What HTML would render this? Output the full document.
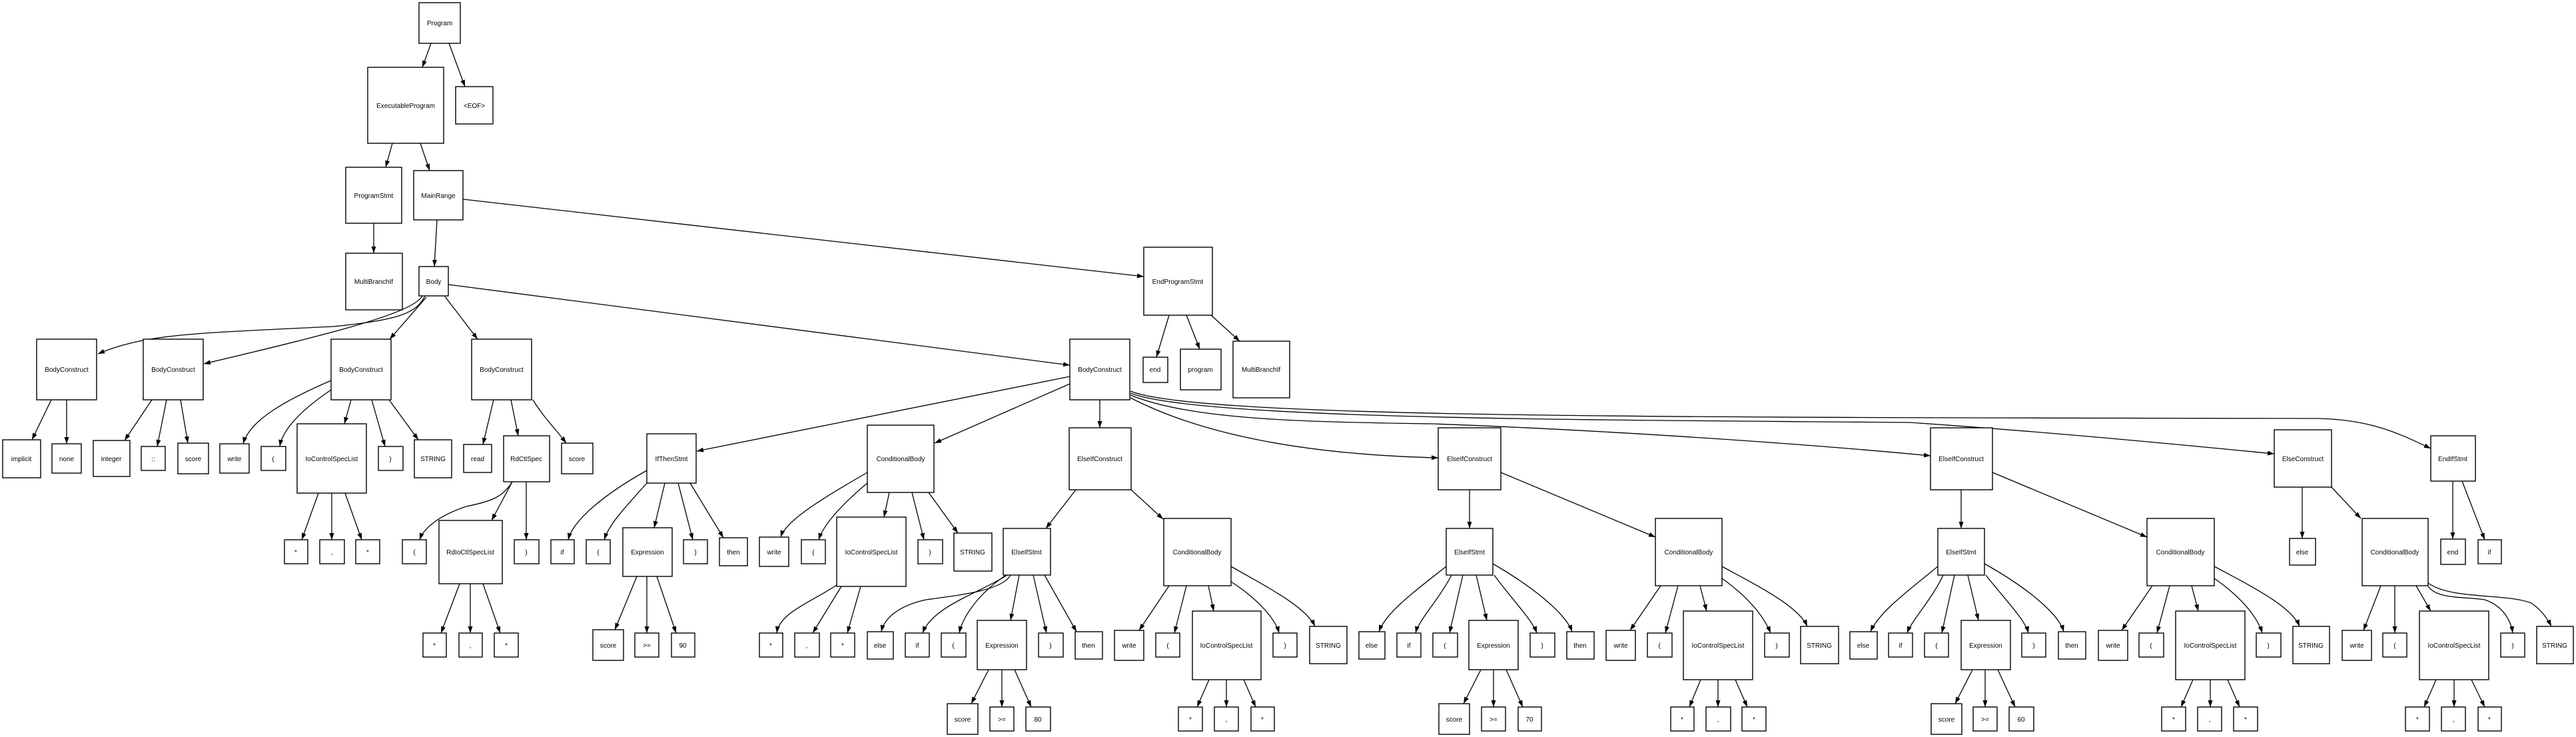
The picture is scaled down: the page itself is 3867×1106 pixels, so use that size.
<!DOCTYPE html>
<html><head><meta charset="utf-8"><style>
html,body{margin:0;padding:0;background:#fff}
svg{display:block}
rect{fill:#fff;stroke:#000;stroke-width:1.4}
text{font-family:"Liberation Sans",sans-serif;font-size:10px;text-anchor:middle;fill:#000}
path{fill:none;stroke:#000;stroke-width:1.3}
</style></head><body>
<svg width="3867" height="1106" viewBox="0 0 3867 1106" xmlns="http://www.w3.org/2000/svg">
<defs><marker id="a" markerUnits="userSpaceOnUse" markerWidth="11" markerHeight="8" refX="10" refY="3.5" orient="auto"><path d="M0,0 L10,3.5 L0,7 z" style="fill:#000;stroke:none"/></marker></defs>
<g marker-end="url(#a)">
<path d="M647,65 L634,101"/><path d="M674,65 L698,130"/>
<path d="M589,215 L579,251"/><path d="M631,215 L645,256"/>
<path d="M561,335 L561,380"/><path d="M656,330 L652,400"/>
<path d="M695,299 L1717,415"/><path d="M673,427 L1606,548"/>
<path d="M1755,473 L1736,536"/><path d="M1781,473 L1801,524"/><path d="M1818,473 L1861,512"/>
<path d="M638,444 C625,470 600,480 500,490 C300,500 220,500 147,531"/>
<path d="M634,444 C620,470 500,500 306,546"/>
<path d="M640,446 L585,509"/><path d="M668,445 L717,509"/>
<path d="M77,600 L48,660"/><path d="M100,600 L100,666"/>
<path d="M228,600 L187,661"/><path d="M250,600 L236,670"/><path d="M271,600 L282,665"/>
<path d="M497,571 C430,600 375,630 365,666"/><path d="M497,585 C460,610 425,640 420,670"/>
<path d="M527,600 L517,636"/><path d="M558,600 L578,670"/><path d="M584,600 L628,660"/>
<path d="M741,600 L725,667"/><path d="M767,600 L778,654"/><path d="M800,600 C815,625 835,645 850,665"/>
<path d="M478,740 L453,810"/><path d="M498,740 L498,810"/><path d="M518,740 L543,810"/>
<path d="M769,723 C755,745 740,752 700,760 C655,775 635,795 630,810"/>
<path d="M769,723 L738,781"/><path d="M790,723 L790,810"/>
<path d="M690,876 L662,950"/><path d="M706,876 L706,950"/><path d="M725,876 L751,950"/>
<path d="M971,706 C910,740 860,780 853,810"/><path d="M971,725 C940,760 915,785 907,810"/>
<path d="M998,725 L982,792"/><path d="M1018,725 L1040,810"/><path d="M1036,725 L1086,807"/>
<path d="M956,865 L923,945"/><path d="M971,865 L971,950"/><path d="M986,865 L1015,950"/>
<path d="M1606,565 L1046,677"/><path d="M1606,576 L1403,665"/><path d="M1651,600 L1651,642"/>
<path d="M1697,597 C1800,650 1950,682 2159,687"/>
<path d="M1697,593 C1790,630 1950,633 2150,636 C2400,645 2700,665 2898,684"/>
<path d="M1697,590 C1800,630 2400,630 2867,634 C3100,650 3300,670 3414,681"/>
<path d="M1697,587 C1800,628 2500,626 3480,628 C3560,630 3600,650 3649,673"/>
<path d="M1302,709 C1240,745 1180,780 1172,806"/><path d="M1302,725 C1260,760 1235,790 1229,810"/>
<path d="M1335,739 L1327,776"/><path d="M1369,739 L1387,810"/><path d="M1394,739 L1438,800"/>
<path d="M1256,878 C1215,905 1170,920 1166,950"/><path d="M1263,880 L1220,950"/><path d="M1292,880 L1272,950"/>
<path d="M1615,735 L1570,793"/><path d="M1698,735 L1746,779"/>
<path d="M1517,863 C1505,885 1450,892 1390,900 C1345,910 1327,930 1323,948"/>
<path d="M1512,863 C1470,890 1400,910 1385,950"/>
<path d="M1510,863 C1470,890 1445,925 1440,950"/>
<path d="M1530,863 L1517,931"/><path d="M1551,863 L1571,950"/><path d="M1568,863 L1616,948"/>
<path d="M1484,1005 L1458,1056"/><path d="M1504,1005 L1504,1061"/><path d="M1523,1005 L1548,1061"/>
<path d="M1755,879 L1710,946"/><path d="M1781,879 L1763,950"/><path d="M1814,879 L1822,917"/>
<path d="M1848,873 C1890,900 1915,930 1920,950"/><path d="M1848,850 C1900,880 1960,910 1974,940"/>
<path d="M1815,1020 L1797,1061"/><path d="M1841,1020 L1841,1061"/><path d="M1867,1020 L1885,1061"/>
<path d="M2206,735 L2206,793"/><path d="M2253,709 L2485,806"/>
<path d="M2171,850 C2120,890 2080,920 2070,948"/><path d="M2179,863 C2160,900 2130,930 2125,950"/>
<path d="M2196,863 L2176,950"/><path d="M2216,863 L2232,931"/>
<path d="M2243,863 C2270,900 2300,930 2307,950"/><path d="M2241,846 C2300,880 2350,920 2360,948"/>
<path d="M2223,1005 L2197,1056"/><path d="M2242,1005 L2242,1061"/><path d="M2261,1005 L2286,1061"/>
<path d="M2493,879 L2447,946"/><path d="M2519,879 L2500,950"/><path d="M2552,879 L2562,917"/>
<path d="M2585,868 C2630,900 2650,930 2658,950"/><path d="M2585,850 C2640,880 2700,910 2713,940"/>
<path d="M2553,1020 L2536,1061"/><path d="M2579,1020 L2579,1061"/><path d="M2605,1020 L2623,1061"/>
<path d="M2944,735 L2944,793"/><path d="M2991,709 L3223,806"/>
<path d="M2909,850 C2860,890 2820,920 2808,948"/><path d="M2917,863 C2900,900 2870,930 2863,950"/>
<path d="M2934,863 L2915,950"/><path d="M2954,863 L2970,931"/>
<path d="M2981,863 C3010,900 3040,930 3045,950"/><path d="M2979,846 C3040,880 3090,920 3098,948"/>
<path d="M2961,1005 L2935,1056"/><path d="M2980,1005 L2980,1061"/><path d="M2999,1005 L3025,1061"/>
<path d="M3231,879 L3185,946"/><path d="M3257,879 L3238,950"/><path d="M3290,879 L3300,917"/>
<path d="M3324,868 C3370,900 3390,930 3396,950"/><path d="M3324,850 C3380,880 3440,910 3452,940"/>
<path d="M3292,1020 L3274,1061"/><path d="M3318,1020 L3318,1061"/><path d="M3344,1020 L3362,1061"/>
<path d="M3456,731 L3456,808"/><path d="M3500,731 L3544,778"/>
<path d="M3574,879 L3548,946"/><path d="M3595,879 L3595,950"/><path d="M3627,879 L3649,917"/>
<path d="M3645,880 C3660,900 3700,895 3730,900 C3760,910 3770,935 3772,950"/>
<path d="M3645,875 C3680,900 3760,890 3800,905 C3815,915 3825,930 3830,940"/>
<path d="M3657,1020 L3639,1061"/><path d="M3684,1020 L3684,1061"/><path d="M3710,1020 L3730,1061"/>
<path d="M3682,722 L3682,809"/><path d="M3696,722 L3730,810"/>
</g>
<g>
<rect x="629" y="4" width="62" height="61"/><text x="660" y="38">Program</text>
<rect x="552" y="101" width="114" height="114"/><text x="609" y="162">ExecutableProgram</text>
<rect x="684" y="130" width="56" height="56"/><text x="712" y="162">&lt;EOF&gt;</text>
<rect x="519" y="251" width="84" height="84"/><text x="561" y="297">ProgramStmt</text>
<rect x="621" y="256" width="74" height="74"/><text x="658" y="297">MainRange</text>
<rect x="519" y="380" width="85" height="85"/><text x="561" y="426">MultiBranchIf</text>
<rect x="629" y="400" width="44" height="44"/><text x="651" y="426">Body</text>
<rect x="1717" y="371" width="103" height="102"/><text x="1768" y="426">EndProgramStmt</text>
<rect x="55" y="509" width="90" height="91"/><text x="100" y="558">BodyConstruct</text>
<rect x="215" y="509" width="90" height="91"/><text x="260" y="558">BodyConstruct</text>
<rect x="497" y="509" width="90" height="91"/><text x="542" y="558">BodyConstruct</text>
<rect x="708" y="509" width="90" height="91"/><text x="753" y="558">BodyConstruct</text>
<rect x="1606" y="509" width="90" height="91"/><text x="1651" y="558">BodyConstruct</text>
<rect x="1716" y="536" width="37" height="38"/><text x="1734" y="558">end</text>
<rect x="1772" y="524" width="61" height="61"/><text x="1802" y="558">program</text>
<rect x="1851" y="512" width="85" height="85"/><text x="1893" y="558">MultiBranchIf</text>

<rect x="4" y="660" width="57" height="57"/><text x="32" y="692">implicit</text>
<rect x="78" y="666" width="44" height="44"/><text x="100" y="692">none</text>
<rect x="140" y="661" width="55" height="54"/><text x="167" y="692">integer</text>
<rect x="212" y="670" width="36" height="36"/><text x="230" y="692">::</text>
<rect x="267" y="665" width="46" height="46"/><text x="290" y="692">score</text>
<rect x="330" y="666" width="44" height="44"/><text x="352" y="692">write</text>
<rect x="392" y="670" width="37" height="36"/><text x="410" y="692">(</text>
<rect x="446" y="636" width="104" height="104"/><text x="498" y="692">IoControlSpecList</text>
<rect x="568" y="670" width="37" height="36"/><text x="586" y="692">)</text>
<rect x="622" y="660" width="56" height="57"/><text x="650" y="692">STRING</text>
<rect x="696" y="667" width="42" height="42"/><text x="717" y="692">read</text>
<rect x="756" y="654" width="69" height="69"/><text x="790" y="692">RdCtlSpec</text>
<rect x="843" y="665" width="47" height="46"/><text x="866" y="692">score</text>
<rect x="971" y="651" width="74" height="74"/><text x="1008" y="692">IfThenStmt</text>
<rect x="1302" y="638" width="100" height="101"/><text x="1352" y="692">ConditionalBody</text>
<rect x="1605" y="642" width="93" height="93"/><text x="1651" y="692">ElseIfConstruct</text>
<rect x="2159" y="642" width="94" height="93"/><text x="2206" y="692">ElseIfConstruct</text>
<rect x="2898" y="642" width="93" height="93"/><text x="2944" y="692">ElseIfConstruct</text>
<rect x="3414" y="645" width="86" height="86"/><text x="3457" y="692">ElseConstruct</text>
<rect x="3649" y="654" width="67" height="68"/><text x="3682" y="692">EndIfStmt</text>

<rect x="427" y="810" width="35" height="36"/><text x="444" y="832">*</text>
<rect x="480" y="810" width="37" height="36"/><text x="498" y="832">,</text>
<rect x="534" y="810" width="36" height="36"/><text x="552" y="832">*</text>
<rect x="604" y="810" width="36" height="36"/><text x="622" y="832">(</text>
<rect x="659" y="781" width="95" height="95"/><text x="706" y="832">RdIoCtlSpecList</text>
<rect x="772" y="810" width="37" height="36"/><text x="790" y="832">)</text>
<rect x="827" y="810" width="35" height="36"/><text x="844" y="832">if</text>
<rect x="880" y="810" width="36" height="36"/><text x="898" y="832">(</text>
<rect x="935" y="792" width="74" height="73"/><text x="972" y="832">Expression</text>
<rect x="1026" y="810" width="36" height="36"/><text x="1044" y="832">)</text>
<rect x="1080" y="807" width="42" height="42"/><text x="1101" y="832">then</text>
<rect x="1140" y="806" width="44" height="44"/><text x="1162" y="832">write</text>
<rect x="1203" y="810" width="36" height="36"/><text x="1221" y="832">(</text>
<rect x="1256" y="776" width="104" height="104"/><text x="1308" y="832">IoControlSpecList</text>
<rect x="1378" y="810" width="37" height="36"/><text x="1396" y="832">)</text>
<rect x="1432" y="800" width="57" height="57"/><text x="1460" y="832">STRING</text>
<rect x="1506" y="793" width="71" height="70"/><text x="1541" y="832">ElseIfStmt</text>
<rect x="1747" y="778" width="101" height="101"/><text x="1797" y="832">ConditionalBody</text>
<rect x="2171" y="793" width="70" height="70"/><text x="2206" y="832">ElseIfStmt</text>
<rect x="2485" y="778" width="100" height="101"/><text x="2535" y="832">ConditionalBody</text>
<rect x="2909" y="793" width="70" height="70"/><text x="2944" y="832">ElseIfStmt</text>
<rect x="3223" y="778" width="101" height="101"/><text x="3273" y="832">ConditionalBody</text>
<rect x="3437" y="808" width="39" height="40"/><text x="3456" y="832">else</text>
<rect x="3546" y="778" width="99" height="101"/><text x="3595" y="832">ConditionalBody</text>
<rect x="3664" y="809" width="37" height="38"/><text x="3682" y="832">end</text>
<rect x="3720" y="810" width="35" height="36"/><text x="3737" y="832">if</text>

<rect x="635" y="950" width="35" height="36"/><text x="652" y="972">*</text>
<rect x="689" y="950" width="35" height="36"/><text x="706" y="972">,</text>
<rect x="742" y="950" width="36" height="36"/><text x="760" y="972">*</text>
<rect x="890" y="945" width="46" height="46"/><text x="913" y="972">score</text>
<rect x="953" y="950" width="36" height="36"/><text x="971" y="972">&gt;=</text>
<rect x="1008" y="950" width="35" height="36"/><text x="1025" y="972">90</text>
<rect x="1140" y="950" width="35" height="36"/><text x="1157" y="972">*</text>
<rect x="1193" y="950" width="37" height="36"/><text x="1211" y="972">,</text>
<rect x="1247" y="950" width="36" height="36"/><text x="1265" y="972">*</text>
<rect x="1302" y="948" width="39" height="41"/><text x="1321" y="972">else</text>
<rect x="1359" y="950" width="36" height="36"/><text x="1377" y="972">if</text>
<rect x="1413" y="950" width="37" height="36"/><text x="1431" y="972">(</text>
<rect x="1467" y="931" width="74" height="74"/><text x="1504" y="972">Expression</text>
<rect x="1559" y="950" width="37" height="36"/><text x="1577" y="972">)</text>
<rect x="1614" y="948" width="41" height="41"/><text x="1634" y="972">then</text>
<rect x="1673" y="946" width="44" height="45"/><text x="1695" y="972">write</text>
<rect x="1735" y="950" width="36" height="36"/><text x="1753" y="972">(</text>
<rect x="1790" y="917" width="103" height="103"/><text x="1841" y="972">IoControlSpecList</text>
<rect x="1911" y="950" width="36" height="36"/><text x="1929" y="972">)</text>
<rect x="1966" y="940" width="56" height="56"/><text x="1994" y="972">STRING</text>
<rect x="2040" y="948" width="39" height="41"/><text x="2059" y="972">else</text>
<rect x="2097" y="950" width="36" height="36"/><text x="2115" y="972">if</text>
<rect x="2151" y="950" width="37" height="36"/><text x="2169" y="972">(</text>
<rect x="2205" y="931" width="74" height="74"/><text x="2242" y="972">Expression</text>
<rect x="2297" y="950" width="37" height="36"/><text x="2315" y="972">)</text>
<rect x="2352" y="948" width="41" height="41"/><text x="2372" y="972">then</text>
<rect x="2411" y="946" width="44" height="45"/><text x="2433" y="972">write</text>
<rect x="2473" y="950" width="37" height="36"/><text x="2491" y="972">(</text>
<rect x="2527" y="917" width="104" height="103"/><text x="2579" y="972">IoControlSpecList</text>
<rect x="2649" y="950" width="37" height="36"/><text x="2667" y="972">)</text>
<rect x="2703" y="940" width="57" height="56"/><text x="2731" y="972">STRING</text>
<rect x="2777" y="948" width="41" height="41"/><text x="2797" y="972">else</text>
<rect x="2835" y="950" width="36" height="36"/><text x="2853" y="972">if</text>
<rect x="2889" y="950" width="36" height="36"/><text x="2907" y="972">(</text>
<rect x="2944" y="931" width="74" height="74"/><text x="2981" y="972">Expression</text>
<rect x="3035" y="950" width="36" height="36"/><text x="3053" y="972">)</text>
<rect x="3090" y="948" width="41" height="41"/><text x="3110" y="972">then</text>
<rect x="3150" y="946" width="44" height="45"/><text x="3172" y="972">write</text>
<rect x="3211" y="950" width="37" height="36"/><text x="3229" y="972">(</text>
<rect x="3266" y="917" width="104" height="103"/><text x="3318" y="972">IoControlSpecList</text>
<rect x="3387" y="950" width="37" height="36"/><text x="3405" y="972">)</text>
<rect x="3442" y="940" width="55" height="56"/><text x="3469" y="972">STRING</text>
<rect x="3516" y="946" width="44" height="45"/><text x="3538" y="972">write</text>
<rect x="3577" y="950" width="36" height="36"/><text x="3595" y="972">(</text>
<rect x="3632" y="917" width="104" height="103"/><text x="3684" y="972">IoControlSpecList</text>
<rect x="3754" y="950" width="36" height="36"/><text x="3772" y="972">)</text>
<rect x="3808" y="940" width="55" height="56"/><text x="3835" y="972">STRING</text>

<rect x="1422" y="1056" width="46" height="46"/><text x="1445" y="1083">score</text>
<rect x="1486" y="1061" width="36" height="36"/><text x="1504" y="1083">&gt;=</text>
<rect x="1540" y="1061" width="37" height="36"/><text x="1558" y="1083">80</text>
<rect x="1769" y="1061" width="36" height="36"/><text x="1787" y="1083">*</text>
<rect x="1823" y="1061" width="36" height="36"/><text x="1841" y="1083">,</text>
<rect x="1878" y="1061" width="35" height="36"/><text x="1895" y="1083">*</text>
<rect x="2160" y="1056" width="46" height="46"/><text x="2183" y="1083">score</text>
<rect x="2224" y="1061" width="36" height="36"/><text x="2242" y="1083">&gt;=</text>
<rect x="2279" y="1061" width="35" height="36"/><text x="2296" y="1083">70</text>
<rect x="2508" y="1061" width="35" height="36"/><text x="2525" y="1083">*</text>
<rect x="2561" y="1061" width="37" height="36"/><text x="2579" y="1083">,</text>
<rect x="2615" y="1061" width="36" height="36"/><text x="2633" y="1083">*</text>
<rect x="2899" y="1056" width="46" height="46"/><text x="2922" y="1083">score</text>
<rect x="2962" y="1061" width="36" height="36"/><text x="2980" y="1083">&gt;=</text>
<rect x="3016" y="1061" width="37" height="36"/><text x="3034" y="1083">60</text>
<rect x="3245" y="1061" width="36" height="36"/><text x="3263" y="1083">*</text>
<rect x="3299" y="1061" width="36" height="36"/><text x="3317" y="1083">,</text>
<rect x="3353" y="1061" width="36" height="36"/><text x="3371" y="1083">*</text>
<rect x="3611" y="1061" width="36" height="36"/><text x="3629" y="1083">*</text>
<rect x="3665" y="1061" width="36" height="36"/><text x="3683" y="1083">,</text>
<rect x="3720" y="1061" width="35" height="36"/><text x="3737" y="1083">*</text>
</g>
</svg>
</body></html>
